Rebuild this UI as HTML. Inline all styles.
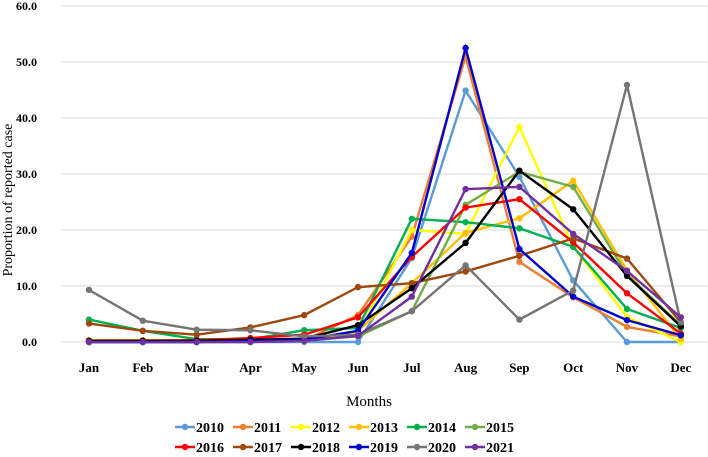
<!DOCTYPE html>
<html><head><meta charset="utf-8"><style>
body{margin:0;background:#fff}
svg{display:block;font-family:"Liberation Serif",serif}
</style></head><body>
<svg id="chart" width="708" height="457" viewBox="0 0 708 457" xmlns="http://www.w3.org/2000/svg">
<g id="grid"></g>
<g id="yticks"></g>
<g id="xticks"></g>
<g id="series"></g>
<text transform="translate(12,200) rotate(-90)" text-anchor="middle" font-size="14">Proportion of reported case</text>
<text x="369" y="406" text-anchor="middle" font-size="15">Months</text>
<g id="legend"></g>
</svg>
<script>
const months=["Jan","Feb","Mar","Apr","May","Jun","Jul","Aug","Sep","Oct","Nov","Dec"];
const yTicks=[0,10,20,30,40,50,60];
const years=["2010","2011","2012","2013","2014","2015","2016","2017","2018","2019","2020","2021"];
const colors=["#5b9bd5","#ed7d31","#ffff00","#ffc000","#00b050","#70ad47","#ff0000","#9e480e","#000000","#0000cc","#757575","#7030a0"];
const s2010=[0,0,0,0,0,0,15,44.9,29.5,11,0,0];
const s2011=[0.3,0.3,0.3,0.3,0.3,4.8,18.8,51,14.3,8,2.7,1];
const s2012=[0.2,0.2,0.2,0.2,0.2,1.5,20,19.3,38.4,17,4.5,0];
const s2013=[0.3,0.3,0.3,0.3,0.2,2,10.5,19.5,22.1,28.8,12.8,0.5];
const s2014=[4,2,0.5,0.5,2.1,2.5,22,21.4,20.3,17,5.9,2.5];
const s2015=[0,0,0,0,0.3,1,5.5,24.5,30.4,27.7,12,3];
const s2016=[0.2,0.2,0.3,0.7,1.3,4.4,15.2,24,25.5,17.8,8.7,1.5];
const s2017=[3.3,2,1.3,2.6,4.8,9.8,10.5,12.6,15.4,18.5,14.9,3.5];
const s2018=[0.2,0.2,0.2,0.4,0.6,3,9.6,17.7,30.6,23.7,11.8,2.8];
const s2019=[0,0,0,0.2,0.4,2,15.9,52.5,16.6,8.1,3.9,1.2];
const s2020=[9.3,3.8,2.2,2.1,1,1.3,5.5,13.7,4,9.2,45.9,3.5];
const s2021=[0,0,0,0,0.2,1.1,8.1,27.3,27.7,19.3,12.7,4.4];
const series=[s2010,s2011,s2012,s2013,s2014,s2015,s2016,s2017,s2018,s2019,s2020,s2021];
const NS="http://www.w3.org/2000/svg";
const x0=89,dx=53.8,y0=342,pxPer=5.6;
const X=i=>x0+i*dx, Y=v=>y0-v*pxPer;
function mk(tag,attrs,parent){const e=document.createElementNS(NS,tag);for(const k in attrs)e.setAttribute(k,attrs[k]);parent.appendChild(e);return e;}
const grid=document.getElementById('grid'),yt=document.getElementById('yticks'),xt=document.getElementById('xticks'),sg=document.getElementById('series'),lg=document.getElementById('legend');
yTicks.forEach(v=>{
 const l=mk('line',{x1:62,x2:708,y1:Y(v),y2:Y(v),stroke:'#d9d9d9','stroke-width':1},grid);
 
 
 const t=mk('text',{x:37,y:Y(v)+4,'text-anchor':'end','font-size':12,'font-weight':'bold'},yt);
 t.textContent=v.toFixed(1);
 
 
});
months.forEach((m,i)=>{
 const t=mk('text',{x:X(i),y:372,'text-anchor':'middle','font-size':13,'font-weight':'bold'},xt);
 t.textContent=m;
 
 
});
series.forEach((d,k)=>{
 const g=mk('g',{},sg);
 
 
 const p=mk('polyline',{points:d.map((v,i)=>X(i)+','+Y(v)).join(' '),fill:'none',stroke:colors[k],'stroke-width':2.4},g);
 
 
 d.forEach((v,i)=>{
  const c=mk('circle',{cx:X(i),cy:Y(v),r:3.2,fill:colors[k]},g);
  
  
 });
});
years.forEach((y,k)=>{
 const row=Math.floor(k/6),col=k%6;
 const lx=175+col*58,ly=row?452:432;
 const g=mk('g',{},lg);
 
 
 mk('line',{x1:lx,x2:lx+20,y1:ly-5,y2:ly-5,stroke:colors[k],'stroke-width':2.4},g);
 mk('circle',{cx:lx+10,cy:ly-5,r:3.2,fill:colors[k]},g);
 const t=mk('text',{x:lx+21,y:ly,'font-size':14,'font-weight':'bold'},g);
 t.textContent=y;
});
</script>
</body></html>
